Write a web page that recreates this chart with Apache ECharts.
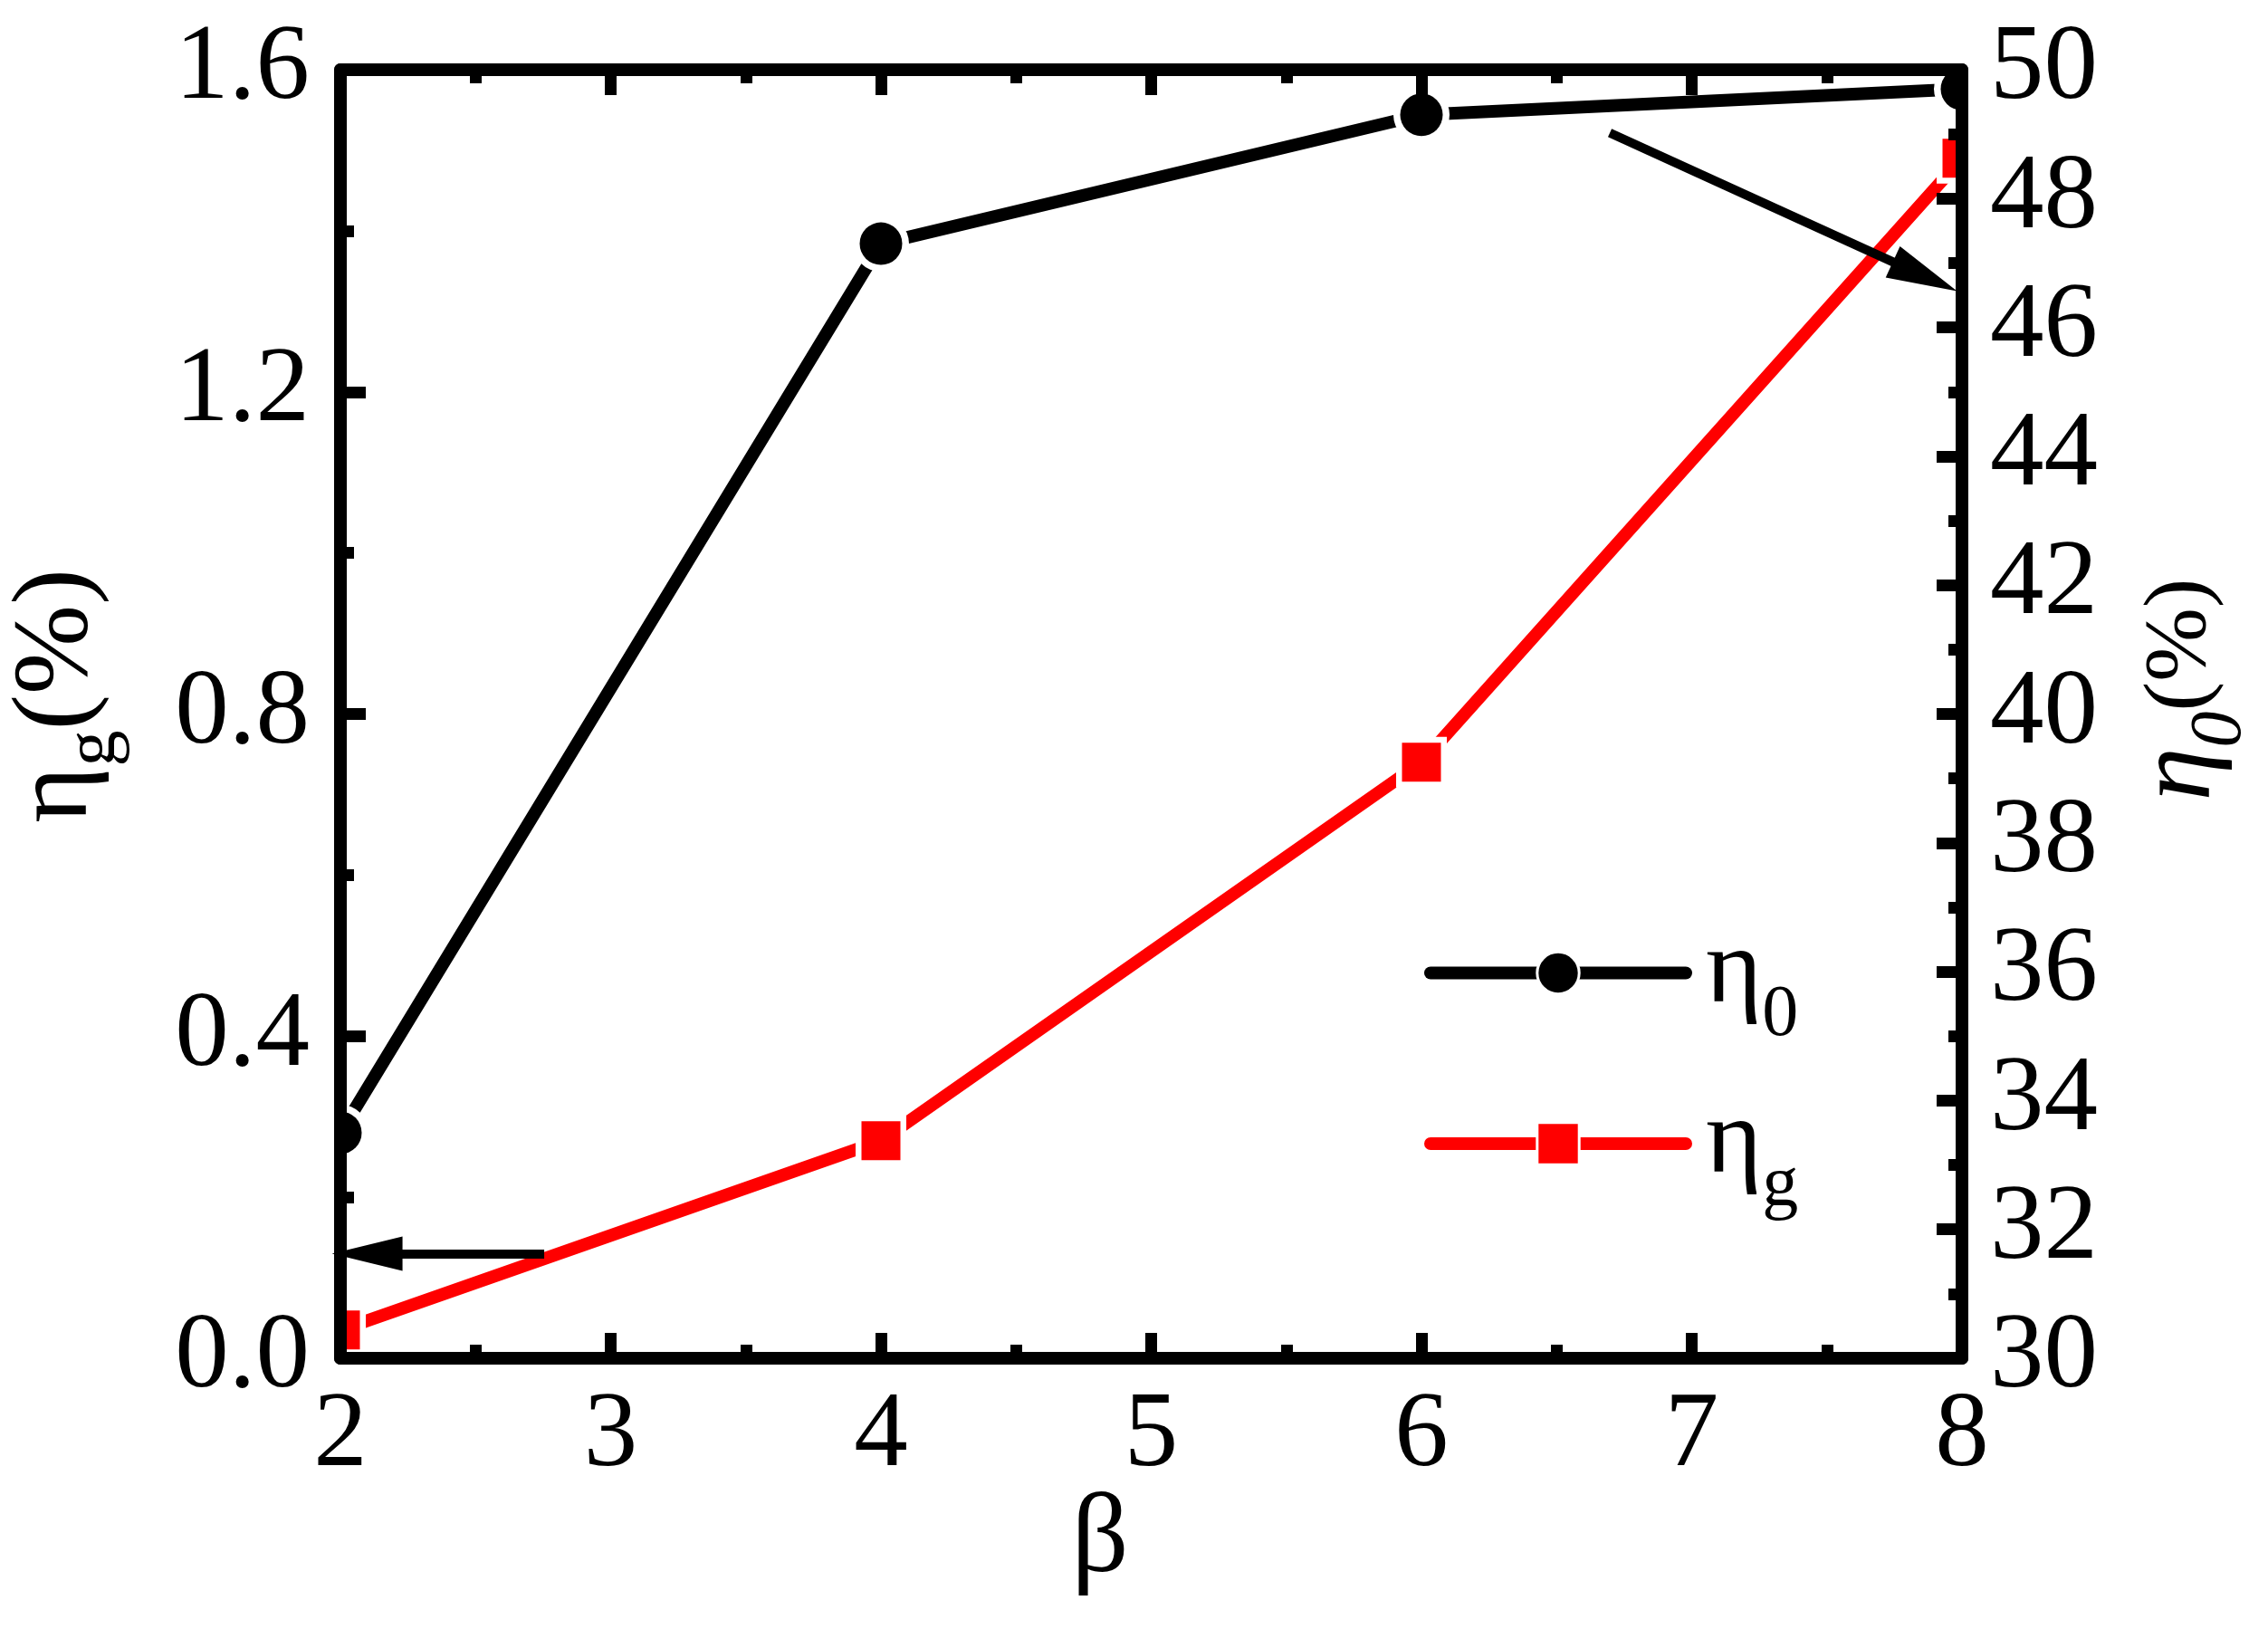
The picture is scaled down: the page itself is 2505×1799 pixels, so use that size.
<!DOCTYPE html>
<html><head><meta charset="utf-8">
<script src="https://cdn.jsdelivr.net/npm/echarts@6/dist/echarts.min.js"></script>
<style>html,body{margin:0;padding:0;background:#fff}#c{width:2505px;height:1799px}</style>
</head><body><div id="c"></div>
<script>
// ---- data ----
const betaValues = [2, 4, 6, 8];
const eta0Values = [33.5, 47.3, 49.3, 49.7];      // right axis (%)
const etagValues = [0.035, 0.27, 0.74, 1.49];     // left axis (%)
const xTickLabels = ['2', '3', '4', '5', '6', '7', '8'];
const leftTickLabels = ['0.0', '0.4', '0.8', '1.2', '1.6'];
const rightTickLabels = ['30', '32', '34', '36', '38', '40', '42', '44', '46', '48', '50'];
// annotation arrows: [start, head centre] in data units of their own axis
const arrowToLeftAxis = [[2.754, 0.130], [2.099, 0.130]];
const arrowToRightAxis = [[6.697, 49.02], [7.863, 46.79]];

const FONT = 'Liberation Serif';
const BLACK = '#000000';
const RED = '#ff0000';
const FS = 119;

const pairs = (xs, ys) => xs.map((x, i) => [x, ys[i]]);

const tickStyle = { show: true, inside: true, length: 28, lineStyle: { color: BLACK, width: 13 } };
const minorStyle = { show: true, splitNumber: 2, length: 15, lineStyle: { color: BLACK, width: 13 } };
const lineStyleAxis = { show: true, onZero: false, lineStyle: { color: BLACK, width: 14 } };
const labelBase = { fontFamily: FONT, fontSize: FS, color: BLACK, hideOverlap: false };

const subRich = (pad, italic, pctSize) => ({
  m: { fontFamily: FONT, fontSize: FS, lineHeight: 180, verticalAlign: 'middle', color: BLACK, fontStyle: italic ? 'italic' : 'normal' },
  s: { fontFamily: FONT, fontSize: 80, verticalAlign: 'top', padding: [pad, 0, 0, 0], color: BLACK, fontStyle: italic ? 'italic' : 'normal' },
  p: { fontFamily: FONT, fontSize: pctSize, lineHeight: 180, verticalAlign: 'middle', color: BLACK },
  sp: { fontFamily: FONT, fontSize: 20, lineHeight: 20, width: 17 }
});

function markerItem(kind) {
  return function (params, api) {
    const p = api.coord([api.value(0), api.value(1)]);
    const cs = params.coordSys;
    let children;
    if (kind === 'circle') {
      children = [
        { type: 'circle', shape: { cx: p[0], cy: p[1], r: 31 }, style: { fill: '#ffffff' } },
        { type: 'circle', shape: { cx: p[0], cy: p[1], r: 23.5 }, style: { fill: BLACK } }
      ];
    } else {
      children = [
        { type: 'rect', shape: { x: p[0] - 28, y: p[1] - 28, width: 56, height: 56 }, style: { fill: '#ffffff' } },
        { type: 'rect', shape: { x: p[0] - 21.5, y: p[1] - 21.5, width: 43, height: 43 }, style: { fill: RED } }
      ];
    }
    return {
      type: 'group',
      clipPath: { type: 'rect', shape: { x: cs.x, y: cs.y, width: cs.width, height: cs.height } },
      children: children
    };
  };
}

function arrowMarkLine(arr) {
  return {
    silent: true,
    animation: false,
    z: 6,
    symbol: ['none', 'triangle'],
    label: { show: false },
    lineStyle: { color: BLACK, width: 10, type: 'solid' },
    itemStyle: { color: BLACK },
    emphasis: { disabled: true },
    data: [[
      { coord: arr[0], symbol: 'none' },
      { coord: arr[1], symbol: 'triangle', symbolSize: [38, 78] }
    ]]
  };
}

const option = {
  animation: false,
  backgroundColor: '#ffffff',
  grid: { left: 376, right: 338, top: 77, bottom: 299, containLabel: false, outerBoundsMode: 'none' },
  legend: {
    orient: 'vertical',
    left: 1568,
    top: 1010,
    itemWidth: 282,
    itemHeight: 58,
    itemGap: 42,
    data: ['η0', 'ηg'],
    selectedMode: false,
    lineStyle: { width: 14, cap: 'round' },
    itemStyle: { borderColor: '#ffffff', borderWidth: 3 },
    formatter: name => name === 'η0' ? '{sp| }{m|η}{s|0}' : '{sp| }{m|η}{s|g}',
    textStyle: { fontFamily: FONT, fontSize: FS, color: BLACK, rich: subRich(97, false, FS) }
  },
  xAxis: [
    {
      type: 'value', position: 'bottom', min: 2, max: 8, interval: 1, z: 10,
      axisLine: lineStyleAxis, axisTick: tickStyle, minorTick: minorStyle,
      splitLine: { show: false }, minorSplitLine: { show: false },
      axisLabel: Object.assign({ margin: 27, formatter: v => xTickLabels[Math.round(v - 2)] }, labelBase),
      name: 'β', nameLocation: 'middle', nameGap: 140, nameMoveOverlap: false,
      nameTextStyle: { fontFamily: FONT, fontSize: 124, color: BLACK, padding: [0, 113, 0, 0] }
    },
    {
      type: 'value', position: 'top', min: 2, max: 8, interval: 1, z: 10,
      axisLine: lineStyleAxis, axisTick: tickStyle, minorTick: minorStyle,
      splitLine: { show: false }, minorSplitLine: { show: false },
      axisLabel: { show: false }
    }
  ],
  yAxis: [
    {
      type: 'value', position: 'left', min: 0, max: 1.6, interval: 0.4, z: 10,
      axisLine: lineStyleAxis, axisTick: tickStyle, minorTick: minorStyle,
      splitLine: { show: false }, minorSplitLine: { show: false },
      axisLabel: Object.assign({ margin: 34, formatter: v => leftTickLabels[Math.round(v / 0.4)] }, labelBase),
      name: '{m|η}{s|g}{m|(%)}', nameLocation: 'middle', nameRotate: 90, nameGap: 222, nameMoveOverlap: false,
      nameTextStyle: { fontFamily: FONT, fontSize: FS, color: BLACK, padding: [0, 0, 0, 40], rich: subRich(91, false, FS) }
    },
    {
      type: 'value', position: 'right', min: 30, max: 50, interval: 2, z: 10,
      axisLine: lineStyleAxis, axisTick: tickStyle, minorTick: minorStyle,
      splitLine: { show: false }, minorSplitLine: { show: false },
      axisLabel: Object.assign({ margin: 31, formatter: v => rightTickLabels[Math.round((v - 30) / 2)] }, labelBase),
      name: '{m|η}{s|0}{p|(%)}', nameLocation: 'middle', nameRotate: 90, nameGap: 152, nameMoveOverlap: false,
      nameTextStyle: { fontFamily: FONT, fontSize: FS, color: BLACK, padding: [0, 0, 0, 54], rich: subRich(94, true, 98) }
    }
  ],
  series: [
    {
      name: 'ηg', type: 'line', xAxisIndex: 0, yAxisIndex: 0, z: 3,
      data: pairs(betaValues, etagValues),
      showSymbol: false, symbol: 'rect', symbolSize: 44, silent: true,
      lineStyle: { color: RED, width: 14, cap: 'round' },
      itemStyle: { color: RED },
      markLine: arrowMarkLine(arrowToLeftAxis)
    },
    {
      name: 'η0', type: 'line', xAxisIndex: 0, yAxisIndex: 1, z: 3,
      data: pairs(betaValues, eta0Values),
      showSymbol: false, symbol: 'circle', symbolSize: 44, silent: true,
      lineStyle: { color: BLACK, width: 14, cap: 'round' },
      itemStyle: { color: BLACK },
      markLine: arrowMarkLine(arrowToRightAxis)
    },
    {
      name: 'ηg markers', type: 'custom', xAxisIndex: 0, yAxisIndex: 0, clip: true, silent: true, z: 4,
      data: pairs(betaValues, etagValues), renderItem: markerItem('rect')
    },
    {
      name: 'η0 markers', type: 'custom', xAxisIndex: 0, yAxisIndex: 1, clip: true, silent: true, z: 4,
      data: pairs(betaValues, eta0Values), renderItem: markerItem('circle')
    }
  ]
};

const chart = echarts.init(document.getElementById('c'), null, { renderer: 'canvas', width: 2505, height: 1799 });
chart.setOption(option);
</script>
</body></html>
